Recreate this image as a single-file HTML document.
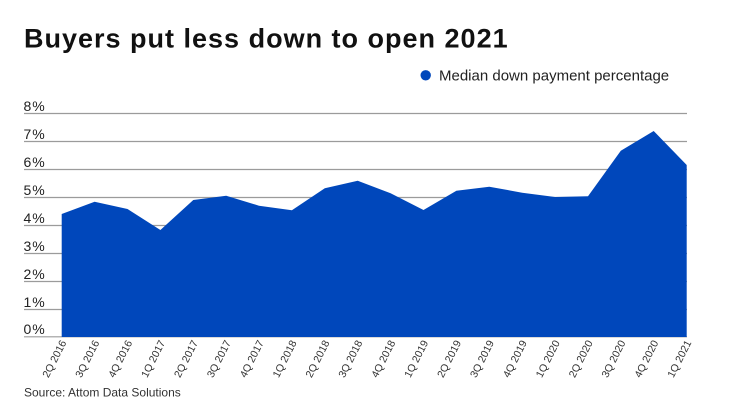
<!DOCTYPE html>
<html>
<head>
<meta charset="utf-8">
<style>
  html, body { margin: 0; padding: 0; background: #fff; }
  svg { display: block; }
  text { font-family: "Liberation Sans", Arial, sans-serif; }
</style>
</head>
<body>
<svg width="740" height="416" viewBox="0 0 740 416" xmlns="http://www.w3.org/2000/svg">
  <rect width="740" height="416" fill="#fff"/>
  <!-- Title -->
  <text x="24" y="47.5" font-size="27" font-weight="bold" fill="#111" letter-spacing="1">Buyers put less down to open 2021</text>

  <!-- Legend -->
  <circle cx="425.7" cy="75.3" r="5.2" fill="#0047bb"/>
  <text x="439" y="80.7" font-size="15" fill="#222">Median down payment percentage</text>

  <!-- Gridlines -->
  <g stroke="#9b9b9b" stroke-width="1.2">
    <line x1="24" x2="687" y1="113.5" y2="113.5"/>
    <line x1="24" x2="687" y1="141.5" y2="141.5"/>
    <line x1="24" x2="687" y1="169.5" y2="169.5"/>
    <line x1="24" x2="687" y1="197.5" y2="197.5"/>
    <line x1="24" x2="687" y1="225.5" y2="225.5"/>
    <line x1="24" x2="687" y1="253.5" y2="253.5"/>
    <line x1="24" x2="687" y1="281.5" y2="281.5"/>
    <line x1="24" x2="687" y1="309.5" y2="309.5"/>
    <line x1="24" x2="687" y1="336.8" y2="336.8"/>
  </g>

  <!-- Y labels -->
  <g font-size="14" fill="#222" letter-spacing="1">
    <text x="23.5" y="111">8%</text>
    <text x="23.5" y="139">7%</text>
    <text x="23.5" y="167">6%</text>
    <text x="23.5" y="195">5%</text>
    <text x="23.5" y="223">4%</text>
    <text x="23.5" y="251">3%</text>
    <text x="23.5" y="279">2%</text>
    <text x="23.5" y="307">1%</text>
    <text x="23.5" y="334">0%</text>
  </g>

  <!-- Area -->
  <polygon fill="#0047bb" points="
    61.7,337 61.7,214
    94.6,201.7
    127.5,209
    160.4,230
    193.3,200
    226.2,195.7
    259.0,205.7
    291.9,210.3
    324.8,188.3
    357.7,180.7
    390.6,193.3
    423.5,210
    456.4,190.7
    489.3,186.7
    522.2,192.7
    555.1,197
    588.0,196.3
    620.8,150.7
    653.7,131
    686.7,165
    686.7,337"/>

  <!-- X labels -->
  <g font-size="10.5" fill="#333" text-anchor="end">
    <text transform="translate(66.7,342.5) rotate(-63)">2Q 2016</text>
    <text transform="translate(99.6,342.5) rotate(-63)">3Q 2016</text>
    <text transform="translate(132.5,342.5) rotate(-63)">4Q 2016</text>
    <text transform="translate(165.4,342.5) rotate(-63)">1Q 2017</text>
    <text transform="translate(198.3,342.5) rotate(-63)">2Q 2017</text>
    <text transform="translate(231.2,342.5) rotate(-63)">3Q 2017</text>
    <text transform="translate(264.0,342.5) rotate(-63)">4Q 2017</text>
    <text transform="translate(296.9,342.5) rotate(-63)">1Q 2018</text>
    <text transform="translate(329.8,342.5) rotate(-63)">2Q 2018</text>
    <text transform="translate(362.7,342.5) rotate(-63)">3Q 2018</text>
    <text transform="translate(395.6,342.5) rotate(-63)">4Q 2018</text>
    <text transform="translate(428.5,342.5) rotate(-63)">1Q 2019</text>
    <text transform="translate(461.4,342.5) rotate(-63)">2Q 2019</text>
    <text transform="translate(494.3,342.5) rotate(-63)">3Q 2019</text>
    <text transform="translate(527.2,342.5) rotate(-63)">4Q 2019</text>
    <text transform="translate(560.1,342.5) rotate(-63)">1Q 2020</text>
    <text transform="translate(593.0,342.5) rotate(-63)">2Q 2020</text>
    <text transform="translate(625.8,342.5) rotate(-63)">3Q 2020</text>
    <text transform="translate(658.7,342.5) rotate(-63)">4Q 2020</text>
    <text transform="translate(691.7,342.5) rotate(-63)">1Q 2021</text>
  </g>

  <!-- Source -->
  <text x="24" y="396.7" font-size="12" fill="#333">Source: Attom Data Solutions</text>
</svg>
</body>
</html>
